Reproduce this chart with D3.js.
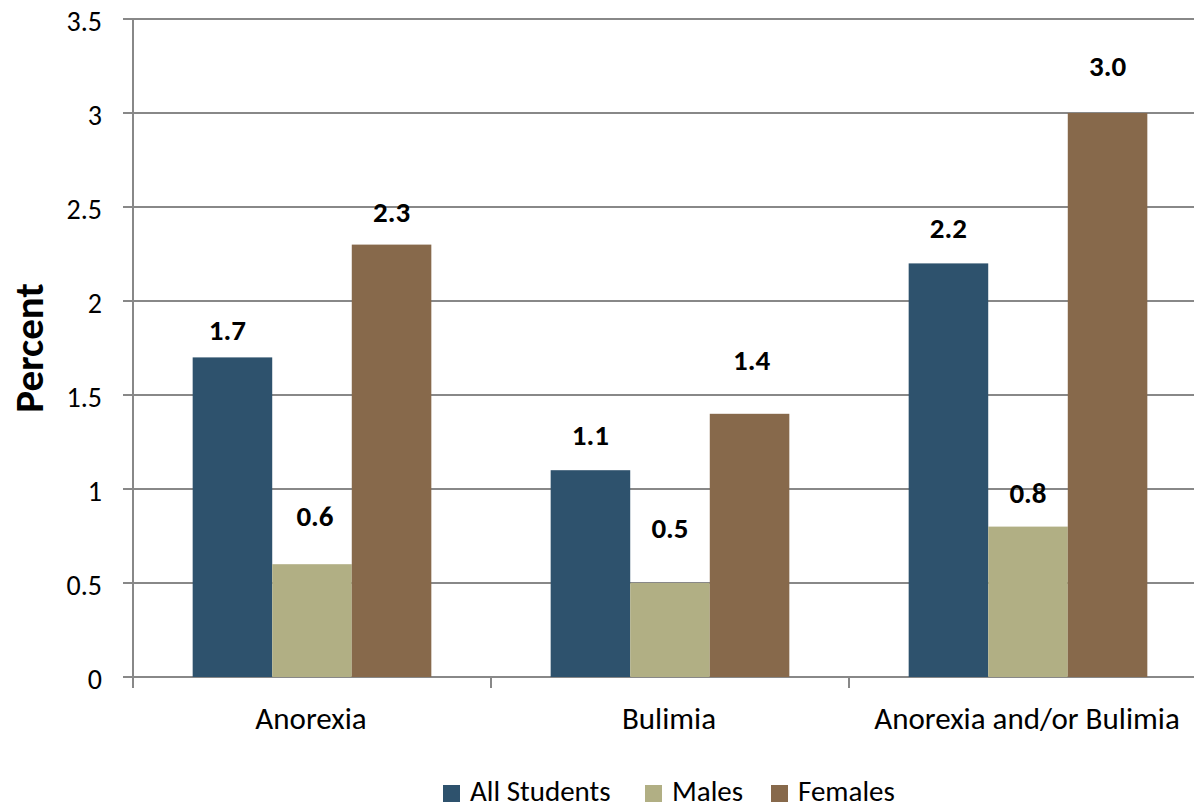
<!DOCTYPE html>
<html><head><meta charset="utf-8">
<script src="https://cdn.jsdelivr.net/npm/d3@7"></script>
<style>body{margin:0;background:#fff}svg{display:block}text{font-family:Carlito,Lato,sans-serif}</style>
</head><body><svg id="c" width="1194" height="808"></svg>
<script>
const categories = ["Anorexia", "Bulimia", "Anorexia and/or Bulimia"];
const seriesNames = ["All Students", "Males", "Females"];
const allStudents = [1.7, 1.1, 2.2];
const males = [0.6, 0.5, 0.8];
const females = [2.3, 1.4, 3.0];
const yTicks = [0, 0.5, 1, 1.5, 2, 2.5, 3, 3.5];
const yTickLabels = ["0", "0.5", "1", "1.5", "2", "2.5", "3", "3.5"];
const colors = ["#2E526D", "#B1AF84", "#87694B"];

// value-label placement (pixels above bar top, horizontal nudge), as in the original's hand-placed labels
const labelGap = [[17, 25, 25], [38, 45, 24], [23, 44, 37]];
const labelNudge = [[-5, 0, 0], [3, 0, 0], [0, 2, 0]];

const series = [allStudents, males, females];
const svg = d3.select("#c");
const L = 133, R = 1207, T = 19, B = 677;
const x = d3.scaleBand().domain(categories).range([L, R]).paddingInner(0).paddingOuter(0);
const y = d3.scaleLinear().domain([0, 3.5]).range([B, T]);
const x1 = d3.scaleBand().domain(seriesNames).range([0, x.bandwidth()]).paddingInner(0).paddingOuter(0.75);

// gridlines
svg.append("g").selectAll("line").data(yTicks).join("line")
  .attr("x1", L - 10).attr("x2", 1194).attr("y1", d => y(d)).attr("y2", d => y(d))
  .attr("stroke", "#888").attr("stroke-width", 2);
// y axis line
svg.append("line").attr("x1", L).attr("x2", L).attr("y1", T).attr("y2", B + 11)
  .attr("stroke", "#888").attr("stroke-width", 2);
// category ticks
svg.append("g").selectAll("line").data(categories.slice(1).map(c => x(c))).join("line")
  .attr("x1", d => d).attr("x2", d => d).attr("y1", B).attr("y2", B + 11)
  .attr("stroke", "#888").attr("stroke-width", 2);

// y tick labels
svg.append("g").selectAll("text").data(yTicks).join("text")
  .attr("x", 102).attr("y", d => y(d) + 2).attr("dy", "0.35em").attr("text-anchor", "end")
  .attr("font-size", 28).attr("fill", "#000").text((d, i) => yTickLabels[i]);

// bars
const groups = svg.append("g").selectAll("g").data(categories).join("g")
  .attr("transform", c => `translate(${x(c)},0)`);
groups.each(function(c, ci) {
  const g = d3.select(this);
  seriesNames.forEach((s, si) => {
    const v = series[si][ci];
    g.append("rect").attr("x", x1(s)).attr("width", x1.bandwidth())
      .attr("y", y(v)).attr("height", y(0) - y(v)).attr("fill", colors[si]);
    g.append("text").attr("x", x1(s) + x1.bandwidth() / 2 + labelNudge[si][ci])
      .attr("y", y(v) - labelGap[si][ci])
      .attr("text-anchor", "middle").attr("font-size", 29).attr("font-weight", "bold")
      .text(v.toFixed(1));
  });
});

// category labels
svg.append("g").selectAll("text").data(categories).join("text")
  .attr("x", c => x(c) + x.bandwidth() / 2 - 1).attr("y", 729).attr("text-anchor", "middle")
  .attr("font-size", 31).text(c => c);

// y title
svg.append("text").attr("transform", "translate(43,348) rotate(-90)").attr("text-anchor", "middle")
  .attr("font-size", 41).attr("font-weight", "bold").text("Percent");

// legend
const legX = [443, 645, 771];
const leg = svg.append("g");
seriesNames.forEach((s, i) => {
  leg.append("rect").attr("x", legX[i]).attr("y", 785).attr("width", 17).attr("height", 17).attr("fill", colors[i]);
  leg.append("text").attr("x", legX[i] + 27).attr("y", 801).attr("font-size", 29).text(s);
});
</script></body></html>
